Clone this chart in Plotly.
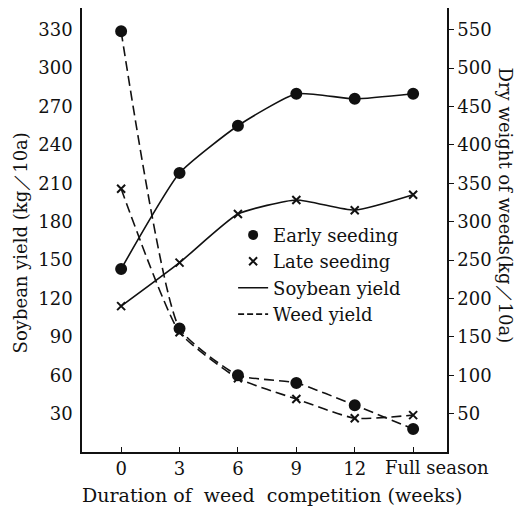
import plotly.graph_objects as go

x_pos = [0, 1, 2, 3, 4, 5]
x_labels = ["0", "3", "6", "9", "12", ""]
last_label = "Full season"

soy_early = [143, 218, 255, 280, 276, 280]
soy_late = [114, 148, 186, 197, 189, 201]
weed_early = [548, 161, 100, 90, 61, 30]
weed_late = [343, 156, 96, 69, 44, 48]

left_ticks = [30, 60, 90, 120, 150, 180, 210, 240, 270, 300, 330]
right_ticks = [50, 100, 150, 200, 250, 300, 350, 400, 450, 500, 550]

FONT = "DejaVu Serif"
BLACK = "#111111"

fig = go.Figure()

def add(y, symbol, dash, axis, msize):
    fig.add_trace(go.Scatter(
        x=x_pos, y=y, yaxis=axis, mode="lines+markers", showlegend=False,
        line=dict(color=BLACK, width=1.6, dash=dash, shape="spline", smoothing=0.5),
        marker=dict(symbol=symbol, size=msize, color=BLACK,
                    line=dict(color=BLACK, width=2)),
    ))

add(soy_early, "circle", "solid", "y", 10)
add(soy_late, "x-thin", "solid", "y", 8)
add(weed_early, "circle", "10px,5px", "y2", 10)
add(weed_late, "x-thin", "10px,5px", "y2", 8)

# legend entries
fig.add_trace(go.Scatter(x=[None], y=[None], mode="markers", name="Early seeding",
                         marker=dict(symbol="circle", size=10, color=BLACK)))
fig.add_trace(go.Scatter(x=[None], y=[None], mode="markers", name="Late seeding",
                         marker=dict(symbol="x-thin", size=8, color=BLACK,
                                     line=dict(color=BLACK, width=2))))
fig.add_trace(go.Scatter(x=[None], y=[None], mode="lines", name="Soybean yield",
                         line=dict(color=BLACK, width=1.6)))
fig.add_trace(go.Scatter(x=[None], y=[None], mode="lines", name="Weed yield",
                         line=dict(color=BLACK, width=1.6, dash="6px,3px")))

fig.update_layout(
    width=516, height=499,
    margin=dict(l=74, r=77, t=0, b=55, autoexpand=False),
    paper_bgcolor="white", plot_bgcolor="white",
    font=dict(family=FONT, size=18, color=BLACK),
    showlegend=True,
    legend=dict(x=0.414, y=0.53, xanchor="left", yanchor="top",
                bgcolor="rgba(0,0,0,0)", font=dict(family=FONT, size=18),
                tracegroupgap=0, itemwidth=30),
    xaxis=dict(range=[-0.67, 5.58], tickvals=x_pos, ticktext=x_labels,
               tickangle=0, automargin=False,
               showgrid=False, zeroline=False, showline=True, linecolor=BLACK,
               linewidth=1.5, mirror=True, ticks="inside", ticklen=5,
               tickcolor=BLACK),
    yaxis=dict(range=[0, 347], tickvals=left_ticks, showgrid=False, zeroline=False,
               automargin=False,
               showline=True, linecolor=BLACK, linewidth=1.5, ticks="",
               ticklabelstandoff=4),
    yaxis2=dict(range=[0, 347 * 5 / 3], tickvals=right_ticks, overlaying="y",
                automargin=False,
                side="right", showgrid=False, zeroline=False, showline=True,
                linecolor=BLACK, linewidth=1.5, ticks="outside", ticklen=5,
                tickcolor=BLACK),
    annotations=[
        dict(text=last_label, xref="x", yref="paper", x=x_pos[-1], xshift=24,
             y=-0.036, xanchor="center", yanchor="middle", showarrow=False,
             font=dict(family=FONT, size=18)),
        dict(text="Duration of  weed  competition (weeks)", xref="paper", yref="paper",
             x=0.52, y=-0.097, xanchor="center", yanchor="middle", showarrow=False,
             font=dict(family=FONT, size=19)),
        dict(text="Soybean yield (kg／10a)", xref="paper", yref="paper",
             x=-0.17, y=0.472, xanchor="center", yanchor="middle",
             textangle=-90, showarrow=False,
             font=dict(family=FONT, size=18)),
        dict(text="Dry weight of weeds(kg／10a)", xref="paper", yref="paper",
             x=1.159, y=0.555, xanchor="center", yanchor="middle",
             textangle=90, showarrow=False,
             font=dict(family=FONT, size=18)),
    ],
)

fig.write_html("out.html")
